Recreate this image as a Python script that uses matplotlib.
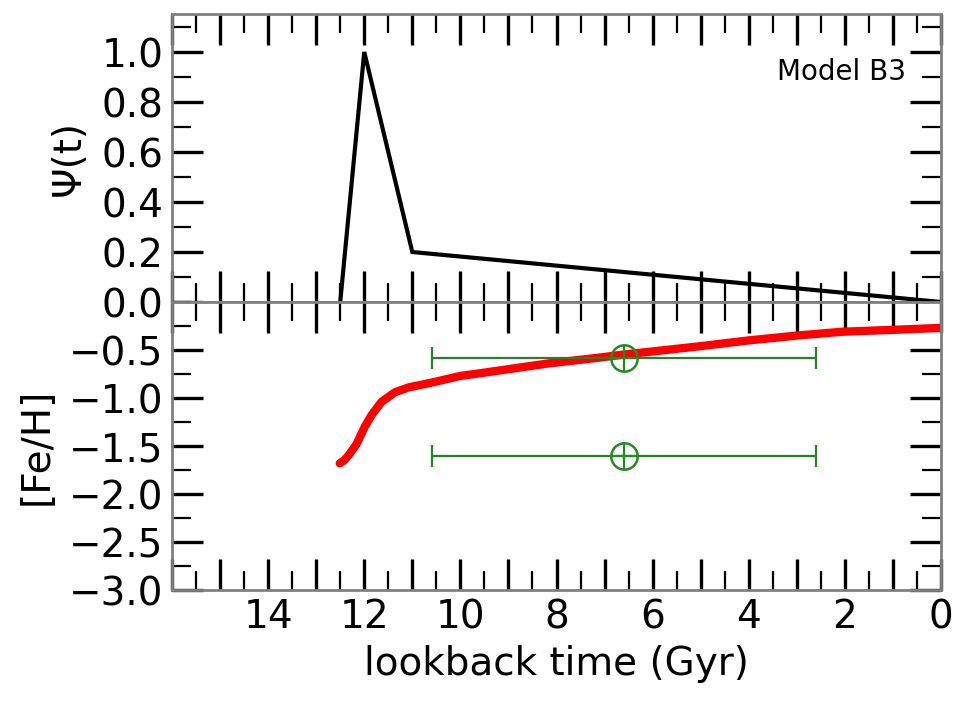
import matplotlib
matplotlib.use("Agg")
import matplotlib.pyplot as plt
from matplotlib.ticker import FixedLocator, MultipleLocator, FuncFormatter

# star formation history psi(t), normalised
sfh_time = [12.5, 12.0, 11.0, 0.0]
sfh_psi = [0.0, 1.0, 0.2, 0.0]

# model metallicity track
feh_time = [12.51, 12.42, 12.33, 12.16, 11.99, 11.85, 11.64, 11.36, 11.08, 10.6, 10.0,
            9.56, 8.17, 7.12, 6.64, 5.0, 4.0, 3.0, 2.06, 1.0, 0.0]
feh_val = [-1.68, -1.65, -1.60, -1.48, -1.30, -1.18, -1.04, -0.94, -0.89, -0.84, -0.77,
           -0.74, -0.64, -0.58, -0.55, -0.46, -0.40, -0.35, -0.31, -0.29, -0.27]

# observed populations with age ranges
obs_age = [6.6, 6.6]
obs_feh = [-0.58, -1.60]
obs_age_err = [4.0, 4.0]

model_name = "Model B3"

plt.rcParams['font.family'] = ['DejaVu Sans']

fig = plt.figure(figsize=(9.69, 7.03), dpi=100)
W, H = 969.0, 703.0
left, right = 172 / W, 941 / W
top, mid, bot = 1 - 14 / H, 1 - 302 / H, 1 - 590 / H

ax1 = fig.add_axes([left, mid, right - left, top - mid])
ax2 = fig.add_axes([left, bot, right - left, mid - bot], sharex=ax1)

spine_col = '#808080'
for ax in (ax1, ax2):
    for s in ax.spines.values():
        s.set_color(spine_col)
        s.set_linewidth(2)
    ax.tick_params(which='both', direction='in', top=True, right=True,
                   labelsize=28, pad=6, color='black')
    ax.tick_params(which='major', length=22, width=2.4)
    ax.tick_params(which='minor', length=14, width=1.6)

# top panel
ax1.plot(sfh_time, sfh_psi, color='black', lw=3, solid_joinstyle='miter')
ax1.set_ylim(0, 1.152)
ax1.yaxis.set_major_locator(FixedLocator([0.0, 0.2, 0.4, 0.6, 0.8, 1.0]))
ax1.yaxis.set_minor_locator(MultipleLocator(0.1))
ax1.yaxis.set_major_formatter(FuncFormatter(lambda v, p: f"{v:.1f}"))
ax1.set_ylabel("Ψ(t)", fontsize=28, labelpad=10)
ax1.tick_params(axis='x', labelbottom=False)
ax1.text(0.955, 0.80, model_name, transform=ax1.transAxes, ha='right',
         va='center', fontsize=20)

# bottom panel
ax2.plot(feh_time, feh_val, color='red', lw=6, solid_capstyle='round')
ax2.errorbar(obs_age, obs_feh, xerr=obs_age_err, fmt='none',
             ecolor='#2a7f2a', elinewidth=1.6, capsize=8, capthick=1.6)
ax2.plot(obs_age, obs_feh, 'o', ms=19, mfc='none', mec='#228b22', mew=1.8)
ax2.plot(obs_age, obs_feh, '+', ms=19, mec='#228b22', mew=1.6)
ax2.set_ylim(-3.0, 0.0)
ax2.yaxis.set_major_locator(FixedLocator([-3.0, -2.5, -2.0, -1.5, -1.0, -0.5]))
ax2.yaxis.set_minor_locator(MultipleLocator(0.25))
ax2.yaxis.set_major_formatter(FuncFormatter(lambda v, p: f"{v:.1f}".replace('-', '\u2212')))
ax2.set_ylabel("[Fe/H]", fontsize=28, labelpad=10)

ax2.set_xlim(16, 0)
ax2.xaxis.set_major_locator(FixedLocator(list(range(0, 17))))
ax2.xaxis.set_minor_locator(MultipleLocator(0.5))
ax2.xaxis.set_major_formatter(FuncFormatter(lambda v, p: f"{int(round(v))}" if int(round(v)) % 2 == 0 and v < 15.5 else ""))
ax2.set_xlabel("lookback time (Gyr)", fontsize=28, labelpad=6)

fig.savefig("out.png", dpi=100)
